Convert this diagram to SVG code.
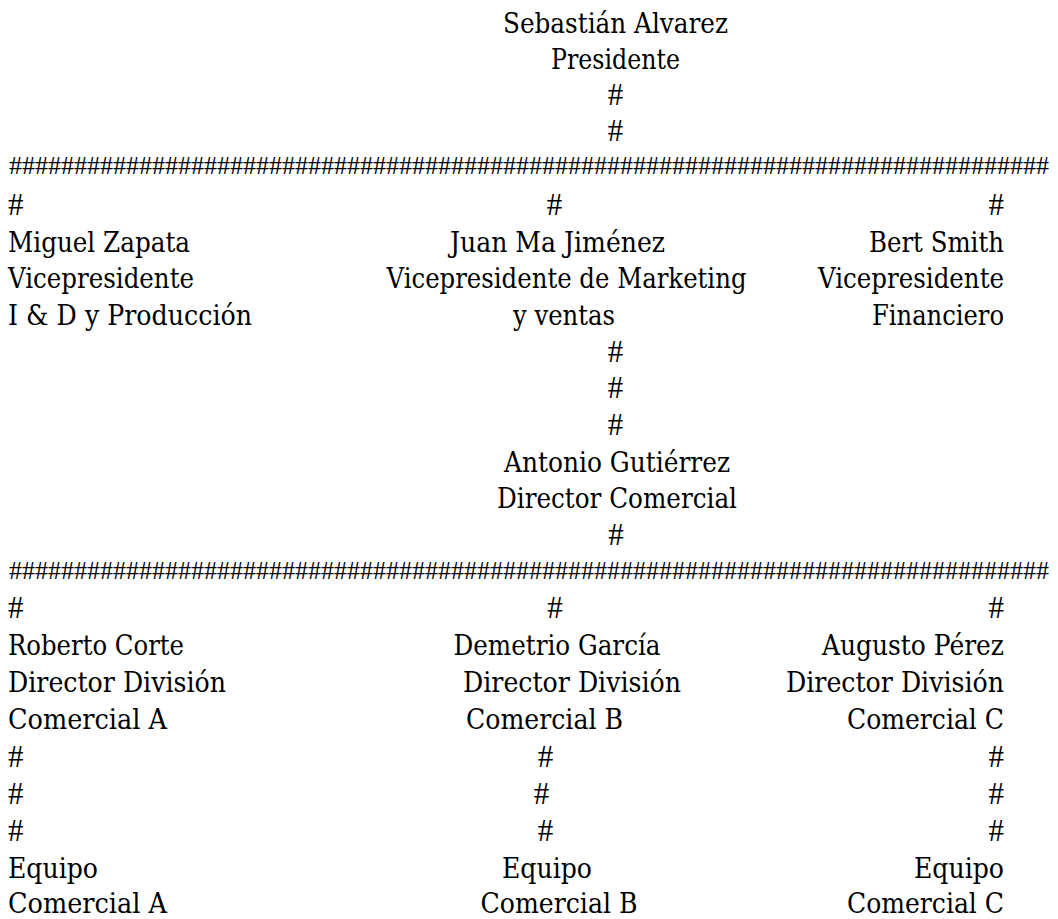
<svg xmlns="http://www.w3.org/2000/svg" width="1058" height="919" viewBox="0 0 1058 919">
<style>
text{font-family:"DejaVu Serif",serif;font-size:28px;fill:#000}
.h{font-family:"Liberation Serif","Times New Roman",serif;font-size:31px}
.m{text-anchor:middle}
.e{text-anchor:end}
.bar{font-family:"Liberation Serif","Times New Roman",serif;font-size:26px}
</style>
<rect width="1058" height="919" fill="#fff"/>
<g id="connectors">
<text class="h m" x="615.5" y="105">#</text>
<text class="h m" x="615.5" y="141">#</text>
<text class="bar" x="9" y="173.5" textLength="1040" lengthAdjust="spacingAndGlyphs">################################################################################</text>
<text class="h" x="8" y="215">#</text>
<text class="h m" x="554.5" y="215">#</text>
<text class="h e" x="1004" y="215">#</text>
<text class="h m" x="615.5" y="361.5">#</text>
<text class="h m" x="615.5" y="398">#</text>
<text class="h m" x="615.5" y="434.5">#</text>
<text class="h m" x="616" y="545">#</text>
<text class="bar" x="9" y="578.5" textLength="1040" lengthAdjust="spacingAndGlyphs">################################################################################</text>
<text class="h" x="8" y="618">#</text>
<text class="h m" x="555" y="618">#</text>
<text class="h e" x="1004" y="618">#</text>
<text class="h" x="8" y="766.5">#</text>
<text class="h m" x="545.5" y="766.5">#</text>
<text class="h e" x="1004" y="766.5">#</text>
<text class="h" x="8" y="803.5">#</text>
<text class="h m" x="541.5" y="803.5">#</text>
<text class="h e" x="1004" y="803.5">#</text>
<text class="h" x="8" y="840.5">#</text>
<text class="h m" x="545.5" y="840.5">#</text>
<text class="h e" x="1004" y="840.5">#</text>
</g>
<g id="presidente">
<text class="m" x="615.5" y="32.5" textLength="225" lengthAdjust="spacingAndGlyphs">Sebastián Alvarez</text>
<text class="m" x="615.5" y="69" textLength="129" lengthAdjust="spacingAndGlyphs">Presidente</text>
</g>
<g id="miguel-zapata">
<text x="8" y="251.5" textLength="182" lengthAdjust="spacingAndGlyphs">Miguel Zapata</text>
<text x="8" y="288" textLength="186" lengthAdjust="spacingAndGlyphs">Vicepresidente</text>
<text x="8" y="325" textLength="244" lengthAdjust="spacingAndGlyphs">I &amp; D y Producción</text>
</g>
<g id="juan-ma-jimenez">
<text class="m" x="557.5" y="251.5" textLength="215" lengthAdjust="spacingAndGlyphs">Juan Ma Jiménez</text>
<text class="m" x="566.5" y="288" textLength="360" lengthAdjust="spacingAndGlyphs">Vicepresidente de Marketing</text>
<text class="m" x="564" y="325" textLength="102" lengthAdjust="spacingAndGlyphs">y ventas</text>
</g>
<g id="bert-smith">
<text class="e" x="1004" y="251.5" textLength="135" lengthAdjust="spacingAndGlyphs">Bert Smith</text>
<text class="e" x="1004" y="288" textLength="186" lengthAdjust="spacingAndGlyphs">Vicepresidente</text>
<text class="e" x="1004" y="325" textLength="132" lengthAdjust="spacingAndGlyphs">Financiero</text>
</g>
<g id="antonio-gutierrez">
<text class="m" x="617" y="471.5" textLength="226" lengthAdjust="spacingAndGlyphs">Antonio Gutiérrez</text>
<text class="m" x="617" y="508" textLength="240" lengthAdjust="spacingAndGlyphs">Director Comercial</text>
</g>
<g id="roberto-corte">
<text x="8" y="655" textLength="176" lengthAdjust="spacingAndGlyphs">Roberto Corte</text>
<text x="8" y="692" textLength="218" lengthAdjust="spacingAndGlyphs">Director División</text>
<text x="8" y="729" textLength="159" lengthAdjust="spacingAndGlyphs">Comercial A</text>
</g>
<g id="demetrio-garcia">
<text class="m" x="557" y="655" textLength="207" lengthAdjust="spacingAndGlyphs">Demetrio García</text>
<text class="m" x="572" y="692" textLength="218" lengthAdjust="spacingAndGlyphs">Director División</text>
<text class="m" x="544.5" y="729" textLength="157" lengthAdjust="spacingAndGlyphs">Comercial B</text>
</g>
<g id="augusto-perez">
<text class="e" x="1004" y="655" textLength="182" lengthAdjust="spacingAndGlyphs">Augusto Pérez</text>
<text class="e" x="1004" y="692" textLength="218" lengthAdjust="spacingAndGlyphs">Director División</text>
<text class="e" x="1004" y="729" textLength="157" lengthAdjust="spacingAndGlyphs">Comercial C</text>
</g>
<g id="equipo-a">
<text x="8" y="877.5" textLength="90" lengthAdjust="spacingAndGlyphs">Equipo</text>
<text x="8" y="913" textLength="159" lengthAdjust="spacingAndGlyphs">Comercial A</text>
</g>
<g id="equipo-b">
<text class="m" x="547" y="877.5" textLength="90" lengthAdjust="spacingAndGlyphs">Equipo</text>
<text class="m" x="559" y="913" textLength="157" lengthAdjust="spacingAndGlyphs">Comercial B</text>
</g>
<g id="equipo-c">
<text class="e" x="1004" y="877.5" textLength="90" lengthAdjust="spacingAndGlyphs">Equipo</text>
<text class="e" x="1004" y="913" textLength="157" lengthAdjust="spacingAndGlyphs">Comercial C</text>
</g>
</svg>
